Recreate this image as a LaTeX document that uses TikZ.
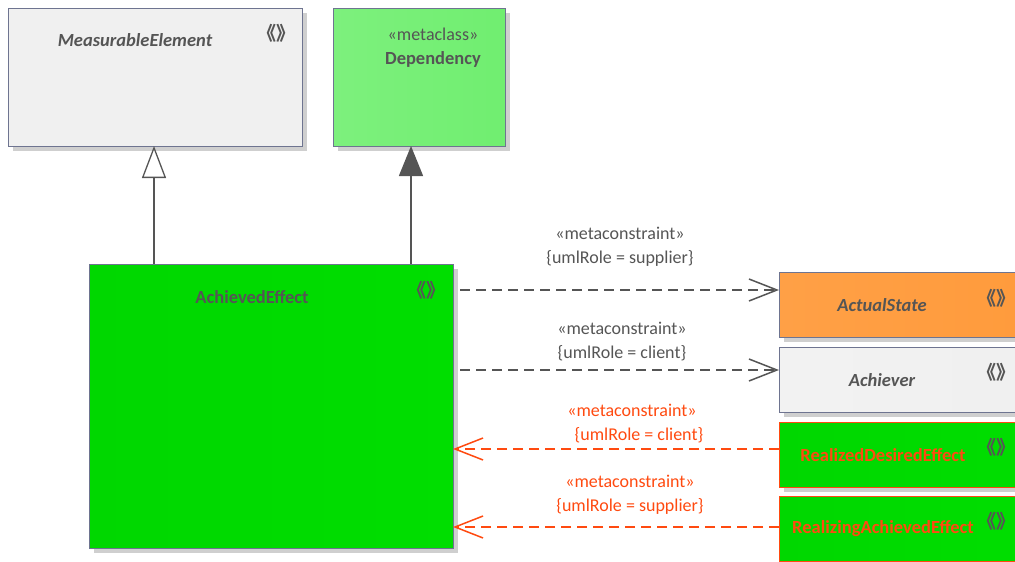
\documentclass[tikz,border=0pt]{standalone}
\usepackage{fontspec}
\setmainfont{Carlito}
\newfontfamily\cjkfont{Noto Sans CJK SC}
\usetikzlibrary{arrows.meta}
\definecolor{edge}{HTML}{6E7490}
\definecolor{txt}{HTML}{555555}
\definecolor{redc}{HTML}{FF4A10}
\definecolor{shadowc}{HTML}{CFCFCF}
\definecolor{gL}{RGB}{0,215,0}
\definecolor{gM}{RGB}{0,250,0}
\definecolor{gR}{RGB}{0,222,0}
\newcommand{\stereoicon}{\makebox[22pt][c]{《》}}
\tikzset{
  box/.style={draw=edge, line width=1.3pt, anchor=north west, inner sep=0pt},
  redbox/.style={box, draw=redc},
  greenfill/.style={left color=gL, middle color=gM, right color=gR},
  shadow/.style={fill=shadowc, draw=none},
  title/.style={font=\fontsize{18.5}{22}\selectfont\bfseries, text=txt},
  ititle/.style={font=\fontsize{18.5}{22}\selectfont\bfseries\itshape, text=txt},
  rtitle/.style={font=\fontsize{18.5}{22}\selectfont\bfseries, text=redc},
  stereo/.style={font=\fontsize{18}{22}\selectfont, text=txt},
  icon/.style={font=\cjkfont\fontsize{19}{19}\selectfont\bfseries, text=txt, inner sep=0pt},
  lbl/.style={font=\fontsize{18}{22}\selectfont, text=txt, inner sep=0pt},
  rlbl/.style={lbl, text=redc},
  dep/.style={draw=txt, line width=1.5pt, dash pattern=on 10pt off 6pt,
     -{Straight Barb[length=28pt,width=22pt,line width=1.5pt]}},
  rdep/.style={dep, draw=redc},
  gen/.style={draw=txt, line width=1.5pt, -{Triangle[open,length=32pt,width=24pt,line width=1.3pt,fill=white]}},
  assoc/.style={draw=txt, line width=1.5pt, -{Triangle[length=30pt,width=24pt,fill=txt]}},
}
\begin{document}
\begin{tikzpicture}[x=1pt,y=-1pt]
\useasboundingbox (0,0) rectangle (1015,562);
% shadows
\fill[shadowc] (13,13) rectangle (307,151);
\fill[shadowc] (338,13) rectangle (510,151);
\fill[shadowc] (94,269) rectangle (458,553);
\fill[shadowc] (784,277) rectangle (1015,342);
\fill[shadowc] (784,352) rectangle (1015,417);
\fill[shadowc] (784,427) rectangle (1015,492);
% boxes
\node[box, minimum width=294pt, minimum height=138pt, left color=gray!12, middle color=white!98!gray, right color=gray!12] (me) at (8,8) {};
\node[box, minimum width=172pt, minimum height=138pt, left color={rgb,255:red,125;green,240;blue,125}, middle color={rgb,255:red,152;green,250;blue,152}, right color={rgb,255:red,112;green,238;blue,112}] (dep) at (333,8) {};
\node[box, greenfill, minimum width=364pt, minimum height=284pt] (ae) at (89,264) {};
\node[box, minimum width=250pt, minimum height=65pt, left color={rgb,255:red,255;green,160;blue,70}, middle color={rgb,255:red,255;green,178;blue,100}, right color={rgb,255:red,255;green,155;blue,60}] (as) at (779,272) {};
\node[box, minimum width=250pt, minimum height=65pt, left color=gray!10, middle color=white, right color=gray!12] (ach) at (779,347) {};
\node[redbox, greenfill, minimum width=250pt, minimum height=65pt] (rde) at (779,422) {};
\node[redbox, greenfill, minimum width=250pt, minimum height=65pt] (rae) at (779,496) {};
% texts
\node[ititle] (t1) at (135,40) {MeasurableElement};
\node[icon] (i1) at (276,33) {\stereoicon};
\node[stereo] (t2s) at (433,34) {«metaclass»};
\node[title] (t2) at (433,59) {Dependency};
\node[title] (t3) at (252,297) {AchievedEffect};
\node[icon] (i3) at (426,290) {\stereoicon};
\node[ititle] (t4) at (882,305) {ActualState};
\node[icon] (i4) at (996,298) {\stereoicon};
\node[ititle] (t5) at (882,380) {Achiever};
\node[icon] (i5) at (996,372) {\stereoicon};
\node[rtitle] (t6) at (883,455) {RealizedDesiredEffect};
\node[icon] (i6) at (996,447) {\stereoicon};
\node[rtitle] (t7) at (883,529) {RealizingAchievedEffect};
\node[icon] (i7) at (996,521) {\stereoicon};
% connectors
\coordinate (g1) at (154,264);
\coordinate (g2) at (154,146);
\draw[gen] (g1) -- (g2);
\coordinate (d1) at (411,264);
\coordinate (d2) at (411,146);
\draw[assoc] (d1) -- (d2);
\coordinate (a1) at (460,290);
\coordinate (a2) at (779,290);
\draw[dep] (a1) -- (a2);
\coordinate (b1) at (460,370);
\coordinate (b2) at (779,370);
\draw[dep] (b1) -- (b2);
\coordinate (c1) at (779,449);
\coordinate (c2) at (453,449);
\draw[rdep] (c1) -- (c2);
\coordinate (e1) at (779,527);
\coordinate (e2) at (453,527);
\draw[rdep] (e1) -- (e2);
% labels
\node[lbl] (l1) at (620,233) {«metaconstraint»};
\node[lbl] (l2) at (620,258) {\{umlRole = supplier\}};
\node[lbl] (l3) at (622,328) {«metaconstraint»};
\node[lbl] (l4) at (622,353) {\{umlRole = client\}};
\node[rlbl] (l5) at (632,410) {«metaconstraint»};
\node[rlbl] (l6) at (639,435) {\{umlRole = client\}};
\node[rlbl] (l7) at (630,481) {«metaconstraint»};
\node[rlbl] (l8) at (630,506) {\{umlRole = supplier\}};
\end{tikzpicture}
\end{document}
